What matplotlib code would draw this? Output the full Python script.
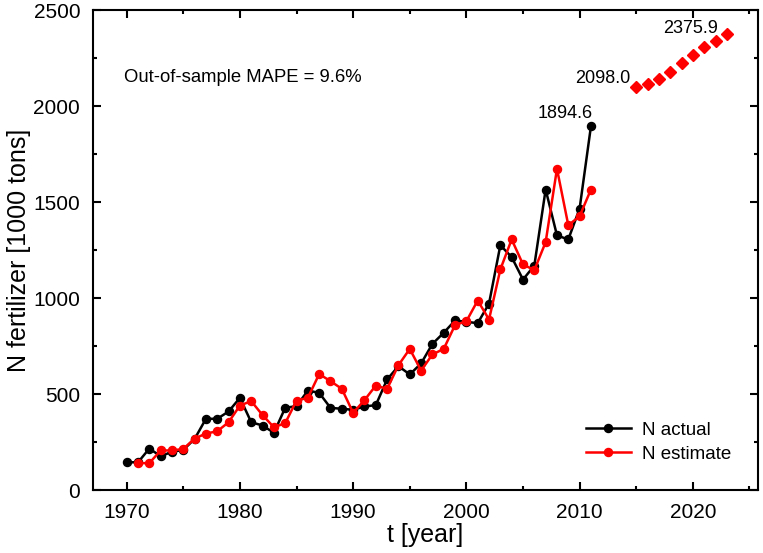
import matplotlib
matplotlib.use("Agg")
import matplotlib.pyplot as plt
from matplotlib.ticker import MultipleLocator

plt.rcParams['font.family'] = ['Liberation Sans', 'DejaVu Sans']

years_actual = list(range(1970, 2012))
n_actual = [145, 144, 216, 176, 199, 209, 266, 371, 371, 409, 480, 353, 336, 298,
            428, 437, 518, 506, 428, 423, 418, 435, 442, 576, 645, 602, 659, 761,
            819, 883, 876, 869, 971, 1275, 1213, 1096, 1169, 1565, 1326, 1305,
            1466, 1894.6]
years_est = list(range(1971, 2012))
n_estimate = [140, 140, 206, 206, 214, 268, 294, 306, 353, 440,
              463, 390, 327, 348, 466, 480, 604, 567, 527, 402,
              468, 544, 527, 650, 735, 622, 706, 735, 859, 879,
              987, 888, 1149, 1305, 1175, 1145, 1291, 1673, 1379, 1426, 1565]
years_fc = list(range(2015, 2024))
n_forecast = [2098.0, 2115, 2142, 2177, 2224, 2264, 2306, 2341, 2375.9]

fig = plt.figure(figsize=(7.63, 5.53), dpi=100)
ax = fig.add_axes([0.1215, 0.1139, 0.8719, 0.868])

ax.plot(years_actual, n_actual, color='black', lw=1.8, marker='o', ms=5.8,
        label='N actual', zorder=2)
ax.plot(years_est, n_estimate, color='#ff0000', lw=1.8, marker='o', ms=5.8,
        label='N estimate', zorder=3)
ax.plot(years_fc, n_forecast, ls='none', color='#ff0000', marker='D', ms=6,
        zorder=3)

ax.annotate(f"{n_actual[-1]:.1f}", (years_actual[-1], n_actual[-1]),
            xytext=(1, 3), textcoords='offset points', ha='right', va='bottom',
            fontsize=13)
ax.annotate(f"{n_forecast[0]:.1f}", (years_fc[0], n_forecast[0]),
            xytext=(-4, 0), textcoords='offset points', ha='right', va='bottom',
            fontsize=13)
ax.annotate(f"{n_forecast[-1]:.1f}", (years_fc[-1], n_forecast[-1]),
            xytext=(-6, -2), textcoords='offset points', ha='right', va='bottom',
            fontsize=13)

ax.text(0.047, 0.86, 'Out-of-sample MAPE = 9.6%', transform=ax.transAxes,
        fontsize=13.3, va='center', ha='left')

ax.set_xlim(1967, 2025.75)
ax.set_ylim(0, 2500)
ax.xaxis.set_major_locator(MultipleLocator(10))
ax.xaxis.set_minor_locator(MultipleLocator(5))
ax.yaxis.set_major_locator(MultipleLocator(500))
ax.yaxis.set_minor_locator(MultipleLocator(250))
ax.tick_params(which='both', direction='in', top=True, right=True, width=1.5)
ax.tick_params(which='major', length=6, labelsize=15)
ax.tick_params(axis='x', which='major', pad=9)
ax.tick_params(axis='y', which='major', pad=9)
ax.tick_params(which='minor', length=3)
for s in ax.spines.values():
    s.set_linewidth(1.5)

ax.set_xlabel('t [year]', fontsize=18, labelpad=1)
ax.set_ylabel('N fertilizer [1000 tons]', fontsize=18, labelpad=2)

ax.legend(loc='lower right', frameon=False, fontsize=13.5, numpoints=1,
          handlelength=2.4, bbox_to_anchor=(0.985, 0.022), labelspacing=0.35,
          handletextpad=0.6)

fig.savefig('out.png', dpi=100)
